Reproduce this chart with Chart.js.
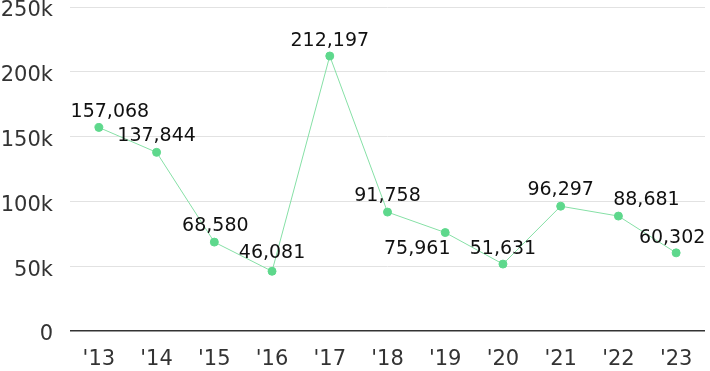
<!doctype html>
<html>
<head>
<style>
  body { margin: 0; background: #fff; }
  #wrap { width: 710px; height: 371px; }
</style>
</head>
<body>
<div id="wrap"><canvas id="chart" width="710" height="371"></canvas></div>
<script src="https://cdn.jsdelivr.net/npm/chart.js"></script>
<script>
// data
var years = ["'13", "'14", "'15", "'16", "'17", "'18", "'19", "'20", "'21", "'22", "'23"];
var counts = [157068, 137844, 68580, 46081, 212197, 91758, 75961, 51631, 96297, 88681, 60302];
var yTicks = [0, 50000, 100000, 150000, 200000, 250000];

// where each value label sits relative to its point
var labelShift = [[11, -15], [0, -16], [1, -16], [0, -18], [0, -15], [0, -16],
                  [-28, 17], [0, -15], [0, -16], [28, -16], [-4, -15]];

var valueLabels = {
  id: 'valueLabels',
  afterDatasetsDraw: function (chart) {
    var ctx = chart.ctx;
    var meta = chart.getDatasetMeta(0);
    ctx.save();
    ctx.font = '19px "DejaVu Sans"';
    ctx.fillStyle = '#111';
    ctx.textAlign = 'center';
    ctx.textBaseline = 'middle';
    meta.data.forEach(function (pt, i) {
      var s = labelShift[i];
      ctx.fillText(counts[i].toLocaleString('en-US'), pt.x + s[0], pt.y + s[1]);
    });
    ctx.restore();
  }
};

var ctx = document.getElementById('chart').getContext('2d');
var chart = new Chart(ctx, {
  type: 'line',
  data: {
    labels: years,
    datasets: [{
      data: counts,
      borderColor: '#86e0a6',
      borderWidth: 1,
      pointBackgroundColor: '#5ed88c',
      pointBorderColor: '#5ed88c',
      pointRadius: 4,
      tension: 0
    }]
  },
  options: {
    responsive: false,
    animation: false,
    layout: { padding: { top: 7, right: 0, left: 0, bottom: 0 } },
    plugins: { legend: { display: false }, tooltip: { enabled: false } },
    scales: {
      x: {
        offset: true,
        grid: { display: false },
        border: { display: false },
        afterFit: function (axis) { axis.height = 40; },
        ticks: { color: '#333', font: { family: 'DejaVu Sans', size: 21 }, padding: 8 }
      },
      y: {
        min: 0,
        max: 250000,
        afterBuildTicks: function (axis) {
          axis.ticks = yTicks.map(function (v) { return { value: v }; });
        },
        afterFit: function (axis) {
          axis.width = 70;
          axis.paddingTop = 0;
          axis.paddingBottom = 0;
        },
        grid: {
          drawTicks: false,
          color: function (c) { return c.tick.value === 0 ? '#333' : '#e2e2e2'; },
          lineWidth: function (c) { return c.tick.value === 0 ? 1.5 : 1; }
        },
        border: { display: false },
        ticks: {
          color: '#333',
          padding: 17,
          labelOffset: 4,
          font: { family: 'DejaVu Sans', size: 21 },
          callback: function (v) { return v === 0 ? '0' : (v / 1000) + 'k'; }
        }
      }
    }
  },
  plugins: [valueLabels]
});
</script>
</body>
</html>
